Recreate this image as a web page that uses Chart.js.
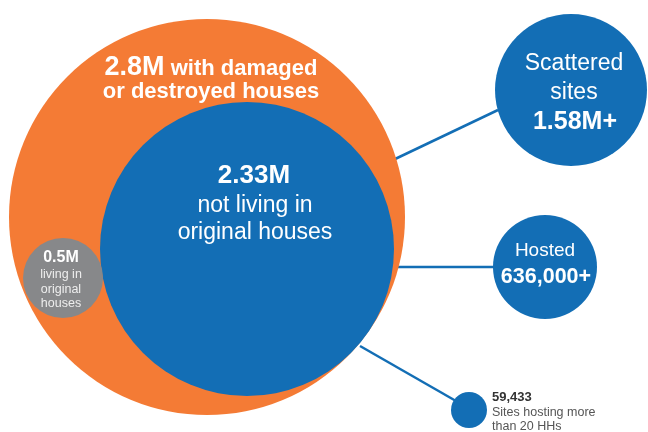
<!DOCTYPE html>
<html><head><meta charset="utf-8">
<script src="https://cdn.jsdelivr.net/npm/chart.js@4"></script>
<style>html,body{margin:0;padding:0;background:#fff}#wrap{width:648px;height:432px}</style>
</head><body><div id="wrap"><canvas id="c" width="648" height="432"></canvas></div>
<script>
// Data
const categories = ["with damaged or destroyed houses","not living in original houses","living in original houses","Scattered sites","Hosted","Sites hosting more than 20 HHs"];
const valueLabels = ["2.8M","2.33M","0.5M","1.58M+","636,000+","59,433"];
const values = [2800000, 2330000, 500000, 1580000, 636000, 59433];

// Layout (pixel space of the canvas)
const centers = [[207,217],[247,249],[63,278],[571,90],[545,267],[469,410]];
const radii = [198,147,40,76,52,18];
const colors = ["#F47B35","#136EB5","#87888A","#136EB5","#136EB5","#136EB5"];
const links = [[[372,170],[498,110]],[[393,267],[494,267]],[[360,346],[456,401]]];

const W = 648, H = 432;

const bubbleData = values.map((v,i)=>({x:centers[i][0], y:centers[i][1], r:radii[i], v:v}));
const lineSets = links.map(l=>({type:'scatter', showLine:true, data:l.map(p=>({x:p[0],y:p[1]})), borderColor:'#136EB5', borderWidth:2.5, pointRadius:0, fill:false, order:5, clip:false}));

const F = 'Liberation Sans, Arial, sans-serif';
const labelPlugin = {
  id:'labels',
  afterDatasetsDraw(chart){
    const ctx = chart.ctx, xs = chart.scales.x, ys = chart.scales.y;
    const P = (x,y)=>[xs.getPixelForValue(x), ys.getPixelForValue(y)];
    function t(x,y,s,size,bold,color,align){
      const [px,py]=P(x,y);
      ctx.save();
      ctx.font=(bold?'bold ':'')+size+'px '+F;
      ctx.fillStyle=color||'#fff';
      ctx.textAlign=align||'center';
      ctx.textBaseline='middle';
      ctx.fillText(s,px,py);
      ctx.restore();
    }
    function mixed(x,y,parts){
      ctx.save();
      let w=0;
      parts.forEach(p=>{ctx.font='bold '+p[1]+'px '+F; w+=ctx.measureText(p[0]).width;});
      const [px,py]=P(x,y);
      let cx=px-w/2;
      parts.forEach(p=>{ctx.font='bold '+p[1]+'px '+F; ctx.fillStyle='#fff'; ctx.textAlign='left'; ctx.textBaseline='alphabetic'; ctx.fillText(p[0],cx,py); cx+=ctx.measureText(p[0]).width;});
      ctx.restore();
    }
    mixed(211,75,[[valueLabels[0],27],[' with damaged',22]]);
    t(211,92,'or destroyed houses',22,true);
    t(254,176,valueLabels[1],26,true);
    t(255,206,'not living in',23,false);
    t(255,233,'original houses',23,false);
    t(61,258,valueLabels[2],16,true);
    t(61,275,'living in',12.5,false,'#eee');
    t(61,290,'original',12.5,false,'#eee');
    t(61,304,'houses',12.5,false,'#eee');
    t(574,64,'Scattered',23,false);
    t(574,93,'sites',23,false);
    t(575,122,valueLabels[3],25,true);
    t(545,251,'Hosted',19,false);
    t(546,277,valueLabels[4],21.5,true);
    t(492,397,valueLabels[5],13,true,'#333','left');
    t(492,413,'Sites hosting more',12.5,false,'#555','left');
    t(492,427,'than 20 HHs',12.5,false,'#555','left');
  }
};

new Chart(document.getElementById('c'),{
  type:'bubble',
  data:{datasets:[
    ...lineSets,
    {type:'bubble', data:bubbleData, backgroundColor:colors, borderWidth:0, hoverBorderWidth:0, hoverRadius:0, order:1, clip:false}
  ]},
  options:{
    responsive:false, animation:false, events:[],
    layout:{padding:0, autoPadding:false},
    plugins:{legend:{display:false}, tooltip:{enabled:false}},
    scales:{
      x:{type:'linear', min:0, max:W, display:false, grace:0},
      y:{type:'linear', min:0, max:H, reverse:true, display:false, grace:0}
    }
  },
  plugins:[labelPlugin]
});
</script></body></html>
